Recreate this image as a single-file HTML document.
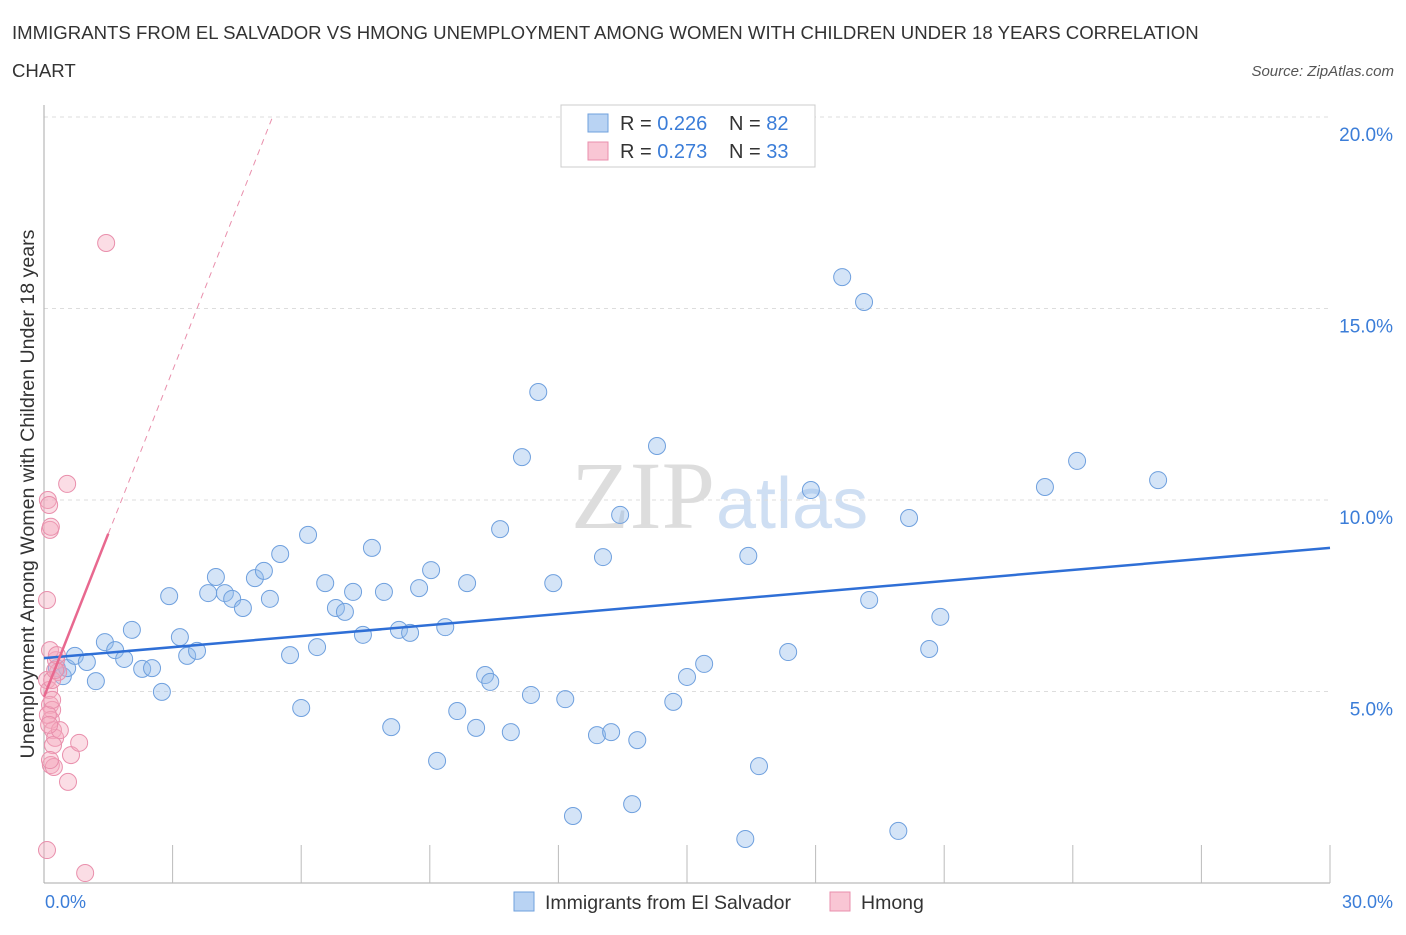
<!DOCTYPE html>
<html><head><meta charset="utf-8"><style>
body{margin:0;background:#fff;font-family:"Liberation Sans",sans-serif;}
</style></head><body>
<svg id="c" width="1406" height="930" xmlns="http://www.w3.org/2000/svg" font-family="Liberation Sans, sans-serif">
<text x="12" y="39" font-size="18.6" fill="#333">IMMIGRANTS FROM EL SALVADOR VS HMONG UNEMPLOYMENT AMONG WOMEN WITH CHILDREN UNDER 18 YEARS CORRELATION</text>
<text x="12" y="77" font-size="18.6" fill="#333">CHART</text>
<text x="1394" y="76" font-size="15" fill="#555" font-style="italic" text-anchor="end">Source: ZipAtlas.com</text>
<text x="715" y="528" font-size="96" fill="#ddd" text-anchor="end" font-family="Liberation Serif, serif">ZIP</text>
<text x="716" y="528" font-size="72" fill="#cfdff3">atlas</text>
<text transform="translate(34,494) rotate(-90)" font-size="19.6" fill="#333" text-anchor="middle">Unemployment Among Women with Children Under 18 years</text>
<g id="grid"></g><g id="marks"></g>
<rect x="561" y="105" width="254" height="62" fill="#fff" stroke="#ccc"/>
<rect x="588" y="114" width="20" height="18" fill="#b9d3f3" stroke="#6fa0de"/>
<text x="620" y="130" font-size="20" fill="#333">R = <tspan fill="#3b7dd8">0.226</tspan></text>
<text x="729" y="130" font-size="20" fill="#333">N = <tspan fill="#3b7dd8">82</tspan></text>
<rect x="588" y="142" width="20" height="18" fill="#f9c6d4" stroke="#e98fac"/>
<text x="620" y="158" font-size="20" fill="#333">R = <tspan fill="#3b7dd8">0.273</tspan></text>
<text x="729" y="158" font-size="20" fill="#333">N = <tspan fill="#3b7dd8">33</tspan></text>
<rect x="514" y="892" width="20" height="19" fill="#b9d3f3" stroke="#6fa0de"/>
<text x="545" y="909" font-size="19.5" fill="#333">Immigrants from El Salvador</text>
<rect x="830" y="892" width="20" height="19" fill="#f9c6d4" stroke="#e98fac"/>
<text x="861" y="909" font-size="19.5" fill="#333">Hmong</text>
<text x="45" y="908" font-size="18" fill="#3b7dd8">0.0%</text>
<text x="1393" y="908" font-size="18" fill="#3b7dd8" text-anchor="end">30.0%</text>
</svg>
<script>
const yTicks=[5,10,15,20];
const yTickLabels=["5.0%","10.0%","15.0%","20.0%"];
const blueX=[0.30,0.44,0.54,0.72,1.00,1.21,1.42,1.66,1.87,2.05,2.29,2.52,2.75,2.92,3.17,3.34,3.57,3.83,4.01,4.22,4.39,4.64,4.92,5.13,5.27,5.51,5.74,6.00,6.16,6.37,6.56,6.81,7.02,7.21,7.44,7.65,7.93,8.10,8.28,8.54,8.75,9.03,9.17,9.36,9.64,9.87,10.08,10.29,10.41,10.64,10.89,11.15,11.36,11.53,11.88,12.16,12.34,12.90,13.04,13.23,13.44,13.72,13.84,14.30,14.68,15.00,15.40,16.36,16.43,16.68,17.36,17.89,18.62,19.13,19.25,19.93,20.18,20.65,20.91,23.35,24.10,25.99];
const blueY=[5.61,5.40,5.61,5.93,5.77,5.27,6.29,6.08,5.85,6.61,5.59,5.61,4.99,7.49,6.42,5.93,6.06,7.57,7.99,7.57,7.42,7.18,7.96,8.15,7.42,8.59,5.95,4.57,9.09,6.16,7.83,7.18,7.08,7.60,6.48,8.75,7.60,4.07,6.61,6.53,7.70,8.17,3.19,6.68,4.49,7.83,4.05,5.43,5.25,9.24,3.94,11.12,4.91,12.82,7.83,4.80,1.75,3.86,8.51,3.94,9.61,2.06,3.73,11.41,4.73,5.38,5.72,1.15,8.54,3.05,6.03,10.26,15.82,15.17,7.39,1.36,9.53,6.11,6.95,10.34,11.02,10.52];
const pinkX=[0.07,0.07,0.09,0.12,0.14,0.16,0.07,0.12,0.14,0.19,0.16,0.21,0.26,0.21,0.16,0.23,0.28,0.33,0.14,0.37,0.56,0.63,0.82,0.54,1.45,0.96,0.19,0.26,0.09,0.12,0.19,0.14,0.30];
const pinkY=[0.86,7.39,10.0,9.87,9.22,9.30,5.30,5.04,4.65,4.52,4.26,3.99,3.79,3.60,3.08,3.03,5.82,5.51,6.08,3.99,2.64,3.34,3.66,10.42,16.71,0.26,5.30,5.56,4.39,4.13,4.78,3.21,5.95];
const blueTrend=[5.87,8.75];
const pinkTrend=[4.86,2.84];
const NS="http://www.w3.org/2000/svg";
const X=v=>44+v/30*1286, Y=v=>883-v*38.3;
function mk(t,a,p){const e=document.createElementNS(NS,t);for(const k in a)e.setAttribute(k,a[k]);p.appendChild(e);return e;}
const g=document.getElementById('grid'),m=document.getElementById('marks');
yTicks.forEach((t,i)=>{
 const l=mk('line',{x1:44,x2:1330,y1:Y(t),y2:Y(t),stroke:'#ddd','stroke-dasharray':'4,4'},g);
 
 
 const tx=mk('text',{x:1393,y:Y(t)+24,'font-size':19,fill:'#3b7dd8','text-anchor':'end'},g);
 tx.textContent=yTickLabels[i];
 
 
});
const ax=mk('line',{x1:44,x2:44,y1:105,y2:883,stroke:'#aaa'},g);


const bx=mk('line',{x1:44,x2:1330,y1:883,y2:883,stroke:'#aaa'},g);


for(let i=1;i<=10;i++){const t=mk('line',{x1:X(i*3),x2:X(i*3),y1:845,y2:883,stroke:'#bbb'},g);
 
 }
blueX.forEach((v,i)=>{const c=mk('circle',{cx:X(v),cy:Y(blueY[i]),r:8.5,fill:'rgba(147,187,235,0.4)',stroke:'#6fa0de','stroke-width':1},m);
 
 });
pinkX.forEach((v,i)=>{const c=mk('circle',{cx:X(v),cy:Y(pinkY[i]),r:8.5,fill:'rgba(244,170,190,0.4)',stroke:'#e98fac','stroke-width':1},m);
 
 });
const bl=mk('line',{x1:X(0),y1:Y(blueTrend[0]),x2:X(30),y2:Y(blueTrend[1]),stroke:'#2f6fd6','stroke-width':2.5},m);


const pe=5.32;
const pd=mk('line',{x1:X(1.5),y1:Y(pinkTrend[0]+pinkTrend[1]*1.5),x2:X(pe),y2:Y(pinkTrend[0]+pinkTrend[1]*pe),stroke:'#e98fac','stroke-width':1,'stroke-dasharray':'6,5'},m);


const ps=mk('line',{x1:X(0),y1:Y(pinkTrend[0]),x2:X(1.5),y2:Y(pinkTrend[0]+pinkTrend[1]*1.5),stroke:'#e8688f','stroke-width':2.5},m);


</script>
</body></html>
